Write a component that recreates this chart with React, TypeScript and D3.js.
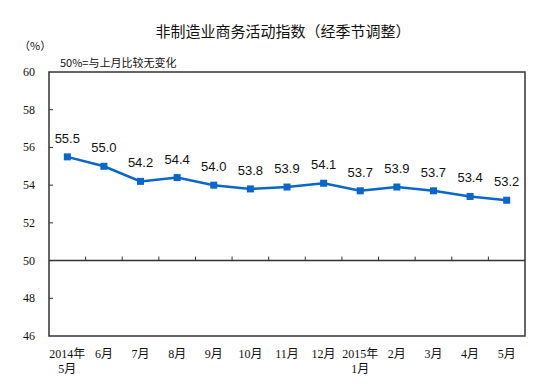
import React from "react";
import * as d3 from "d3";

// months on the x axis (second line of the label, if any)
const months = ["2014年", "6月", "7月", "8月", "9月", "10月", "11月", "12月", "2015年", "2月", "3月", "4月", "5月"];
const subLabels = ["5月", "", "", "", "", "", "", "", "1月", "", "", "", ""];
const pmi = [55.5, 55.0, 54.2, 54.4, 54.0, 53.8, 53.9, 54.1, 53.7, 53.9, 53.7, 53.4, 53.2];
const yTicks = [46, 48, 50, 52, 54, 56, 58, 60];

const title = "非制造业商务活动指数（经季节调整）";
const unit = "（%）";
const note = "50%=与上月比较无变化";

const W = 543;
const H = 385;
const margin = { top: 72, right: 18, bottom: 49, left: 49 };

const blue = "#0a66c8";
const axisColor = "#333";
const serif = "'Liberation Serif', 'Times New Roman', 'Noto Sans CJK SC', serif";
const sans = "'Liberation Sans', Arial, sans-serif";
const cjk = "'Noto Sans CJK SC', sans-serif";

const App = () => {
	const width = W - margin.left - margin.right;
	const height = H - margin.top - margin.bottom;

	const x = d3.scaleBand().domain(months.map((m, i) => String(i))).range([0, width]);
	const y = d3.scaleLinear().domain([46, 60]).range([height, 0]);

	const cx = (i) => x(String(i)) + x.bandwidth() / 2;

	const line = d3
		.line()
		.x((d, i) => cx(i))
		.y((d) => y(d));

	return (
		<svg width={W} height={H} style={{ position: "absolute", left: 0, top: 0, background: "#fff" }}>
			<text x={283} y={37} textAnchor="middle" fontFamily={cjk} fontSize={15} fill="#111">
				{title}
			</text>
			<text x={19} y={50} fontFamily={cjk} fontSize={11} fill="#111">
				{unit}
			</text>
			<text x={60} y={67} fontFamily={cjk} fontSize={11} fill="#111">
				{note}
			</text>

			<g transform={`translate(${margin.left},${margin.top})`}>
				<rect x={0} y={0} width={width} height={height} fill="none" stroke={axisColor} strokeWidth={1.5} />

				{/* y ticks */}
				{yTicks.map((t) => (
					<g key={t}>
						{t > 46 && t < 60 && <line x1={0} x2={4} y1={y(t)} y2={y(t)} stroke={axisColor} />}
						<text x={-14} y={y(t) + 4} textAnchor="end" fontFamily={serif} fontSize={12} fill="#111">
							{t}
						</text>
					</g>
				))}

				{/* 50 reference axis with category ticks */}
				<line x1={0} x2={width} y1={y(50)} y2={y(50)} stroke={axisColor} strokeWidth={1.5} />
				{months.slice(1).map((m, i) => (
					<line
						key={"t" + i}
						x1={x(String(i + 1))}
						x2={x(String(i + 1))}
						y1={y(50)}
						y2={y(50) - 4}
						stroke={axisColor}
					/>
				))}

				{/* category labels */}
				{months.map((m, i) => (
					<g key={"l" + i}>
						<text x={cx(i)} y={height + 22} textAnchor="middle" fontFamily={serif} fontSize={12} fill="#111">
							{m}
						</text>
						{subLabels[i] && (
							<text x={cx(i)} y={height + 37} textAnchor="middle" fontFamily={serif} fontSize={12} fill="#111">
								{subLabels[i]}
							</text>
						)}
					</g>
				))}

				<path d={line(pmi)} fill="none" stroke={blue} strokeWidth={2.5} />
				{pmi.map((v, i) => (
					<rect key={"p" + i} x={cx(i) - 3.5} y={y(v) - 3.5} width={7} height={7} fill={blue} />
				))}
				{pmi.map((v, i) => (
					<text
						key={"v" + i}
						x={cx(i)}
						y={y(v) - 14}
						textAnchor="middle"
						fontFamily={sans}
						fontSize={13}
						fill="#111"
					>
						{v.toFixed(1)}
					</text>
				))}
			</g>
		</svg>
	);
};

export default App;
